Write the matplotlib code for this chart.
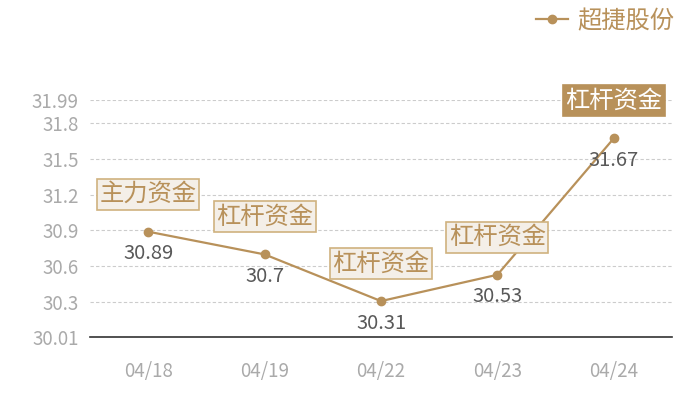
import matplotlib.pyplot as plt

plt.rcParams['font.family'] = ['Noto Sans CJK SC', 'DejaVu Sans']

dates = ['04/18', '04/19', '04/22', '04/23', '04/24']
prices = [30.89, 30.7, 30.31, 30.53, 31.67]
tags = ['主力资金', '杠杆资金', '杠杆资金', '杠杆资金', '杠杆资金']
yticks = [30.01, 30.3, 30.6, 30.9, 31.2, 31.5, 31.8, 31.99]

GOLD = '#b8915a'

fig = plt.figure(figsize=(7, 4), dpi=100)
ax = fig.add_axes([0.1286, 0.1575, 0.8314, 0.5925])

x = range(len(dates))
ax.plot(x, prices, color=GOLD, lw=1.6, marker='o', ms=6, label='超捷股份', zorder=3)

ax.set_xlim(-0.5, len(dates) - 0.5)
ax.set_ylim(yticks[0], yticks[-1])
ax.set_yticks(yticks)
ax.set_yticklabels([f'{v:g}' for v in yticks])
ax.set_xticks(list(x))
ax.set_xticklabels(dates)
ax.tick_params(length=0, colors='#aaaaaa', labelsize=13.5)
ax.tick_params(axis='x', pad=17)
ax.tick_params(axis='y', pad=8)
ax.grid(axis='y', color='#cccccc', ls=(0, (3, 2)), lw=0.8)
for s in ['top', 'right', 'left']:
    ax.spines[s].set_visible(False)
ax.spines['bottom'].set_color('#333333')
ax.spines['bottom'].set_linewidth(1.2)

for i, (p, t) in enumerate(zip(prices, tags)):
    ax.annotate(f'{p:g}', (i, p), xytext=(0, -16), textcoords='offset points',
                ha='center', va='center', fontsize=14.5, color='#595959', zorder=4)
    last = i == len(prices) - 1
    box = dict(boxstyle='square,pad=0.1', fc=GOLD if last else '#f4efe8',
               ec=GOLD if last else '#cfb27f', lw=1.2)
    ax.annotate(t, (i, p), xytext=(0, 27), textcoords='offset points',
                ha='center', va='center', fontsize=17.5,
                color='white' if last else GOLD, bbox=box, zorder=5)

fig.legend(loc='upper right', bbox_to_anchor=(0.995, 1.035), frameon=False,
           fontsize=17.5, labelcolor=GOLD, handlelength=1.3, handletextpad=0.4)

fig.savefig('out.png', dpi=100)
